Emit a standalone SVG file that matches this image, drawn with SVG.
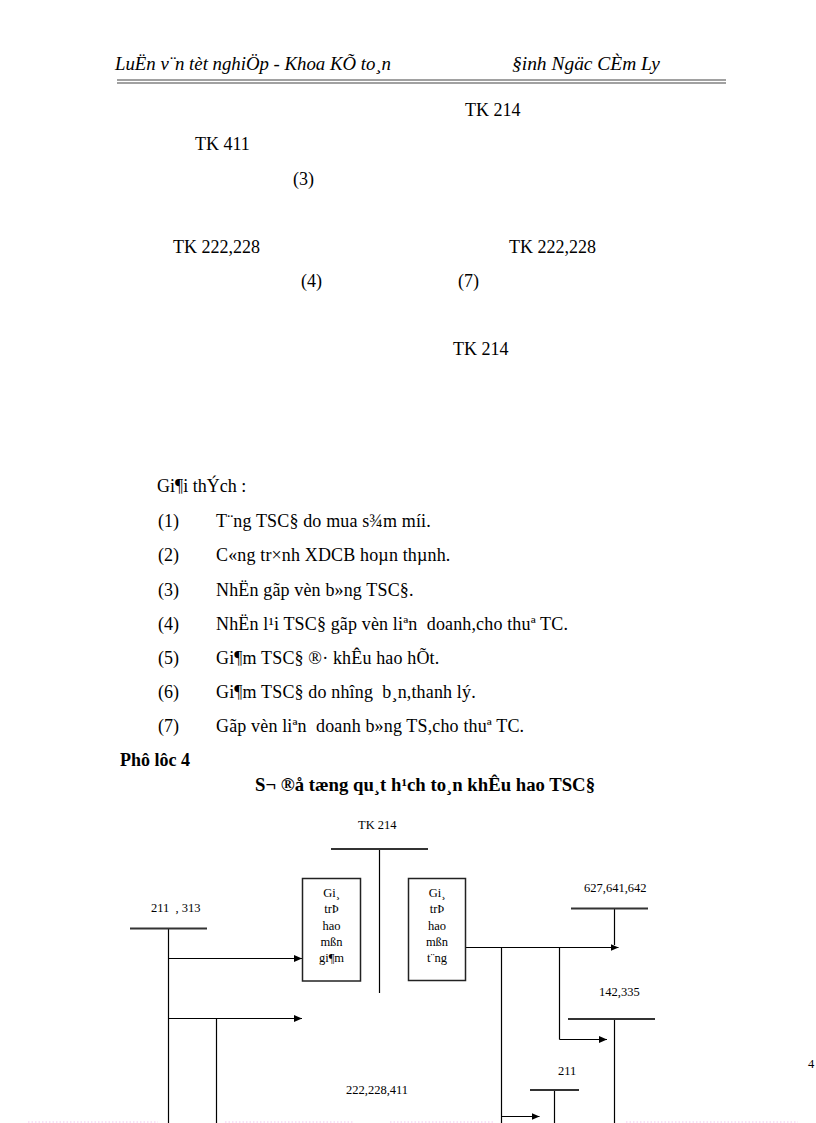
<svg xmlns="http://www.w3.org/2000/svg" width="816" height="1123" viewBox="0 0 816 1123">
<style>
text{font-family:'Liberation Serif','Times New Roman','DejaVu Serif',serif;fill:#000}
.hdr{font-style:italic;font-size:18px}
.t18{font-size:18px}
.lg{font-size:18px;letter-spacing:0.15px}
.b18{font-size:18px;font-weight:bold}
.sm{font-size:12.5px}
.bar{stroke:#333;stroke-width:1.8;fill:none}
.ln{stroke:#000;stroke-width:1.2;fill:none}
.box{stroke:#222;stroke-width:1.5;fill:#fff}
.dot{stroke:#f2c6f0;stroke-width:1.2;stroke-dasharray:1.5 2;fill:none}
</style>
<defs>
<marker id="ah" markerUnits="userSpaceOnUse" markerWidth="8" markerHeight="8" refX="8" refY="4" orient="auto">
<path d="M0,0.5 L8,4 L0,7.5 z" fill="#000"/>
</marker>
</defs>
<rect width="816" height="1123" fill="#fff"/>
<g id="header">
<text class="hdr" x="115" y="70" textLength="276" lengthAdjust="spacingAndGlyphs">LuËn v¨n tèt nghiÖp - Khoa KÕ to¸n</text>
<text class="hdr" x="512" y="70" textLength="148" lengthAdjust="spacingAndGlyphs">§inh Ngäc CÈm Ly</text>
<line x1="117" y1="80" x2="726" y2="80" stroke="#444" stroke-width="1.2"/>
<line x1="117" y1="83" x2="726" y2="83" stroke="#444" stroke-width="1.2"/>
</g>
<g id="upper-labels">
<text class="t18" x="465" y="116">TK 214</text>
<text class="t18" x="195" y="150">TK 411</text>
<text class="t18" x="293" y="185">(3)</text>
<text class="t18" x="173" y="253">TK 222,228</text>
<text class="t18" x="509" y="253">TK 222,228</text>
<text class="t18" x="301" y="287">(4)</text>
<text class="t18" x="458" y="287">(7)</text>
<text class="t18" x="453" y="355">TK 214</text>
</g>
<g id="legend">
<text class="t18" x="157" y="492">Gi¶i thÝch :</text>
<text class="t18" x="158" y="527">(1)</text><text class="lg" x="216" y="527">T¨ng TSC§ do mua s¾m míi.</text>
<text class="t18" x="158" y="561">(2)</text><text class="lg" x="216" y="561">C«ng tr×nh XDCB hoµn thµnh.</text>
<text class="t18" x="158" y="596">(3)</text><text class="lg" x="216" y="596">NhËn gãp vèn b»ng TSC§.</text>
<text class="t18" x="158" y="630">(4)</text><text class="lg" x="216" y="630" xml:space="preserve">NhËn l¹i TSC§ gãp vèn liªn  doanh,cho thuª TC.</text>
<text class="t18" x="158" y="664">(5)</text><text class="lg" x="216" y="664">Gi¶m TSC§ ®· khÊu hao hÕt.</text>
<text class="t18" x="158" y="698">(6)</text><text class="lg" x="216" y="698" xml:space="preserve">Gi¶m TSC§ do nh­îng  b¸n,thanh lý.</text>
<text class="t18" x="158" y="732">(7)</text><text class="lg" x="216" y="732" xml:space="preserve">Gãp vèn liªn  doanh b»ng TS,cho thuª TC.</text>
</g>
<g id="title">
<text class="b18" x="120" y="766">Phô lôc 4</text>
<text class="b18" x="255" y="791" textLength="340" lengthAdjust="spacingAndGlyphs">S¬ ®å tæng qu¸t h¹ch to¸n khÊu hao TSC§</text>
</g>
<g id="connectors">
<line class="ln" x1="379.5" y1="849" x2="379.5" y2="993"/>
<line class="ln" x1="168.5" y1="928" x2="168.5" y2="1123"/>
<line class="ln" x1="168.5" y1="958.5" x2="302" y2="958.5" marker-end="url(#ah)"/>
<line class="ln" x1="168.5" y1="1018.5" x2="302" y2="1018.5" marker-end="url(#ah)"/>
<line class="ln" x1="216.5" y1="1018.5" x2="216.5" y2="1123"/>
<line class="ln" x1="465.5" y1="947.5" x2="618.5" y2="947.5" marker-end="url(#ah)"/>
<line class="ln" x1="614.5" y1="908.5" x2="614.5" y2="945"/>
<line class="ln" x1="501.5" y1="947.5" x2="501.5" y2="1123"/>
<line class="ln" x1="559.5" y1="947.5" x2="559.5" y2="1039.5"/>
<line class="ln" x1="559.5" y1="1039.5" x2="607" y2="1039.5" marker-end="url(#ah)"/>
<line class="ln" x1="614.5" y1="1019" x2="614.5" y2="1123"/>
<line class="ln" x1="554.5" y1="1090" x2="554.5" y2="1123"/>
<line class="ln" x1="501.5" y1="1116.5" x2="539.5" y2="1116.5" marker-end="url(#ah)"/>
</g>
<g id="tk214">
<text class="sm" x="358" y="829">TK 214</text>
<line class="bar" x1="331" y1="849" x2="428" y2="849"/>
</g>
<g id="box-giam">
<rect class="box" x="302.5" y="878.5" width="58" height="102.5"/>
<text class="sm" text-anchor="middle" x="331.5" y="897">Gi¸</text>
<text class="sm" text-anchor="middle" x="331.5" y="913">trÞ</text>
<text class="sm" text-anchor="middle" x="331.5" y="929.5">hao</text>
<text class="sm" text-anchor="middle" x="331.5" y="946">mßn</text>
<text class="sm" text-anchor="middle" x="331.5" y="962">gi¶m</text>
</g>
<g id="box-tang">
<rect class="box" x="408.5" y="878.5" width="57" height="102"/>
<text class="sm" text-anchor="middle" x="437" y="897">Gi¸</text>
<text class="sm" text-anchor="middle" x="437" y="913">trÞ</text>
<text class="sm" text-anchor="middle" x="437" y="929.5">hao</text>
<text class="sm" text-anchor="middle" x="437" y="946">mßn</text>
<text class="sm" text-anchor="middle" x="437" y="962">t¨ng</text>
</g>
<g id="acc-211-313">
<text class="sm" x="151" y="912" xml:space="preserve">211  , 313</text>
<line class="bar" x1="130" y1="928.5" x2="207" y2="928.5"/>
</g>
<g id="acc-222-228-411">
<text class="sm" x="346" y="1094">222,228,411</text>
</g>
<g id="acc-627-641-642">
<text class="sm" x="584" y="892">627,641,642</text>
<line class="bar" x1="571" y1="908.5" x2="648" y2="908.5"/>
</g>
<g id="acc-142-335">
<text class="sm" x="599" y="996">142,335</text>
<line class="bar" x1="568" y1="1019" x2="655" y2="1019"/>
</g>
<g id="acc-211">
<text class="sm" x="558" y="1075">211</text>
<line class="bar" x1="530" y1="1090" x2="579" y2="1090"/>
</g>
<g id="page-edge">
<text class="sm" x="808" y="1068">4</text>
<line class="dot" x1="28" y1="1122" x2="158" y2="1122"/>
<line class="dot" x1="225" y1="1122" x2="354" y2="1122"/>
<line class="dot" x1="390" y1="1122" x2="494" y2="1122"/>
<line class="dot" x1="626" y1="1122" x2="798" y2="1122"/>
</g>
</svg>
